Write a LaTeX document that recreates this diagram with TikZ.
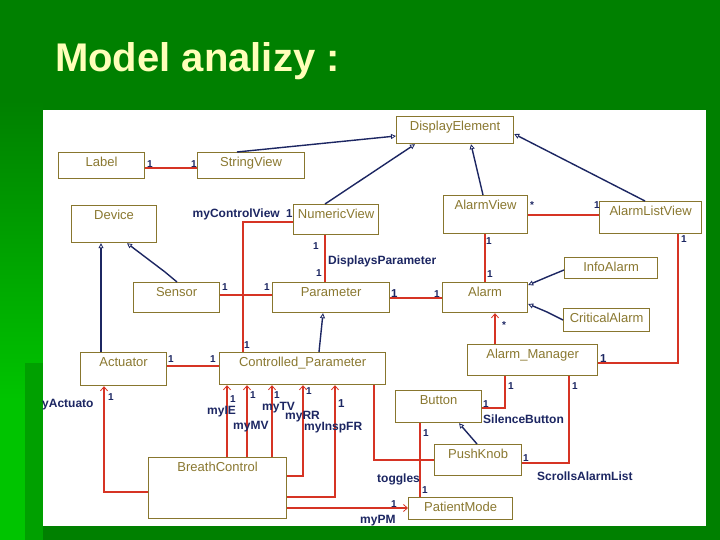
\documentclass[tikz,border=0pt]{standalone}
\usepackage{fontspec}
\setmainfont{Liberation Sans}
\usetikzlibrary{arrows.meta}

\definecolor{slidegreen}{RGB}{0,128,0}
\definecolor{litegreen}{RGB}{0,196,0}
\definecolor{stripgreen}{RGB}{0,160,0}
\definecolor{titlec}{RGB}{255,255,185}
\definecolor{boxc}{RGB}{136,118,46}
\definecolor{namec}{RGB}{138,120,48}
\definecolor{navyc}{RGB}{28,38,98}
\definecolor{redc}{RGB}{214,52,36}

\begin{document}
\begin{tikzpicture}[x=1pt, y=-1pt,
    cls/.style 2 args={draw=boxc, line width=1.2pt, fill=white, inner sep=0pt, anchor=north west,
        minimum width=#1pt, text height=14pt, text depth={#2pt-14pt}, text=namec,
        font=\fontsize{13}{13}\selectfont},
    inh/.style={draw=navyc, line width=1.4pt,
        -{Triangle[open, length=5pt, width=5pt, fill=white, line width=0.8pt]}},
    assoc/.style={draw=redc, line width=1.1pt},
    nav/.style={assoc, -{Straight Barb[length=4pt, width=7pt, line width=0.8pt]}},
    mult/.style={inner sep=0pt, anchor=base west, text=navyc, font=\fontsize{10}{10}\selectfont\bfseries},
    bigmult/.style={mult, font=\fontsize{11.5}{11.5}\selectfont\bfseries},
    role/.style={inner sep=0pt, anchor=base west, text=navyc, font=\fontsize{12}{12}\selectfont\bfseries}]
\useasboundingbox (0,0) rectangle (720,540);

% slide
\fill[slidegreen] (0,0) rectangle (720,540);
\shade[top color=slidegreen, bottom color=litegreen] (0,100) rectangle (43,400);
\fill[litegreen] (0,400) rectangle (43,540);
\fill[stripgreen] (25,363) rectangle (43,540);
\fill[white] (43,110) rectangle (706,526);
\node[inner sep=0pt, anchor=base west, text=titlec, font=\fontsize{40}{40}\selectfont\bfseries]
    (title) at (55,72) {Model analizy :};

% classes
\node[cls={117}{27}] (display) at (396,116) {DisplayElement};
\node[cls={86}{26}] (label) at (58,152) {Label};
\node[cls={107}{26}] (stringview) at (197,152) {StringView};
\node[cls={85}{37}] (device) at (71,205) {Device};
\node[cls={85}{30}] (numeric) at (293,204) {NumericView};
\node[cls={84}{38}] (alarmview) at (443,195) {AlarmView};
\node[cls={102}{32}] (alarmlist) at (599,201) {AlarmListView};
\node[cls={86}{30}] (sensor) at (133,282) {Sensor};
\node[cls={117}{30}] (parameter) at (272,282) {Parameter};
\node[cls={85}{30}] (alarm) at (442,282) {Alarm};
\node[cls={93}{21}] (info) at (564,257) {InfoAlarm};
\node[cls={86}{23}] (critical) at (563,308) {CriticalAlarm};
\node[cls={86}{33}] (actuator) at (80,352) {Actuator};
\node[cls={166}{32}] (ctrl) at (219,352) {Controlled\_Parameter};
\node[cls={130}{31}] (manager) at (467,344) {Alarm\_Manager};
\node[cls={86}{32}] (button) at (395,390) {Button};
\node[cls={87}{31}] (pushknob) at (434,444) {PushKnob};
\node[cls={104}{22}] (patient) at (408,497) {PatientMode};
\node[cls={138}{61}] (breath) at (148,457) {BreathControl};

% generalisations
\draw[inh] (stringview.north -| 237,0) -- (display.west |- 0,136);
\draw[inh] (numeric.north -| 325,0) -- (display.south -| 415,0);
\draw[inh] (alarmview.north -| 483,0) -- (display.south -| 471,0);
\draw[inh] (alarmlist.north -| 645,0) -- (display.east |- 0,134);
\draw[inh] (sensor.north -| 177,0) -- (165,272) -- (device.south -| 127,0);
\draw[inh] (actuator.north -| 101,0) -- (device.south -| 101,0);
\draw[inh] (ctrl.north -| 319,0) -- (parameter.south -| 323,0);
\draw[inh] (info.west |- 0,270) -- (547,277) -- (alarm.east |- 0,285);
\draw[inh] (critical.west |- 0,320) -- (547,312) -- (alarm.east |- 0,304);
\draw[inh] (pushknob.north -| 477,0) -- (button.south -| 459,0);

% associations
\draw[assoc] (label.east |- 0,168) -- (stringview.west |- 0,168);
\draw[assoc] (alarmview.east |- 0,215) -- (alarmlist.west |- 0,215);
\draw[assoc] (numeric.west |- 0,222) -| (ctrl.north -| 243,0);
\draw[assoc] (numeric.south -| 325,0) -- (parameter.north -| 325,0);
\draw[assoc] (sensor.east |- 0,295) -- (parameter.west |- 0,295);
\draw[assoc] (parameter.east |- 0,298) -- (alarm.west |- 0,298);
\draw[assoc] (alarmview.south -| 485,0) -- (alarm.north -| 485,0);
\draw[assoc] (actuator.east |- 0,366) -- (ctrl.west |- 0,366);
\draw[nav] (manager.north -| 495,0) -- (alarm.south -| 495,0);
\draw[assoc] (manager.east |- 0,363) -| (alarmlist.south -| 678,0);
\draw[assoc] (manager.south -| 505,0) |- (button.east |- 0,408);
\draw[assoc] (manager.south -| 569,0) |- (pushknob.east |- 0,463);
\draw[assoc] (button.south -| 420,0) -- (patient.north -| 420,0);
\draw[assoc] (ctrl.south -| 374,0) |- (pushknob.west |- 0,460);

% BreathControl roles
\draw[nav] (breath.north -| 227,0) -- (ctrl.south -| 227,0);
\draw[nav, line width=2pt] (breath.north -| 247,0) -- (ctrl.south -| 247,0);
\draw[nav] (breath.north -| 272,0) -- (ctrl.south -| 272,0);
\draw[nav] (breath.east |- 0,476) -| (ctrl.south -| 303,0);
\draw[nav] (breath.east |- 0,497) -| (ctrl.south -| 335,0);
\draw[nav] (breath.west |- 0,492) -| (actuator.south -| 104,0);
\draw[nav] (breath.east |- 0,508) -- (patient.west |- 0,508);

% multiplicities
\foreach \x/\y [count=\i] in {147/168, 191/168, 594/208, 244/348, 313/249, 316/276,
    222/290, 264/290, 434/297, 486/244, 487/277, 168/362, 210/362, 681/243,
    508/389, 483/407, 572/389, 523/461, 423/436, 422/493,
    230/402, 250/398, 274/398, 306/394, 108/400, 391/507}
  \node[mult] (one-\i) at (\x,\y) {1};
\foreach \x/\y [count=\i] in {286/218, 391/297, 600/362, 338/407}
  \node[bigmult] (bigone-\i) at (\x,\y) {1};
\node[mult] (many-1) at (530,208) {*};
\node[mult] (many-2) at (502,328) {*};

% role names
\node[role, anchor=base east] (ctrlview) at (280,218) {myControlView};
\node[role] (displays) at (328,264) {DisplaysParameter};
\node[role] (silence) at (483,423) {SilenceButton};
\node[role] (scrolls) at (537,480) {ScrollsAlarmList};
\node[role] (toggles) at (377,482) {toggles};
\node[role] (myie) at (207,414) {myIE};
\node[role] (mymv) at (233,429) {myMV};
\node[role] (mytv) at (262,410) {myTV};
\node[role] (myrr) at (285,419) {myRR};
\node[role] (myinsp) at (304,430) {myInspFR};
\node[role] (myact) at (42,407) {yActuato};
\node[role] (mypm) at (360,523) {myPM};
\end{tikzpicture}
\end{document}
